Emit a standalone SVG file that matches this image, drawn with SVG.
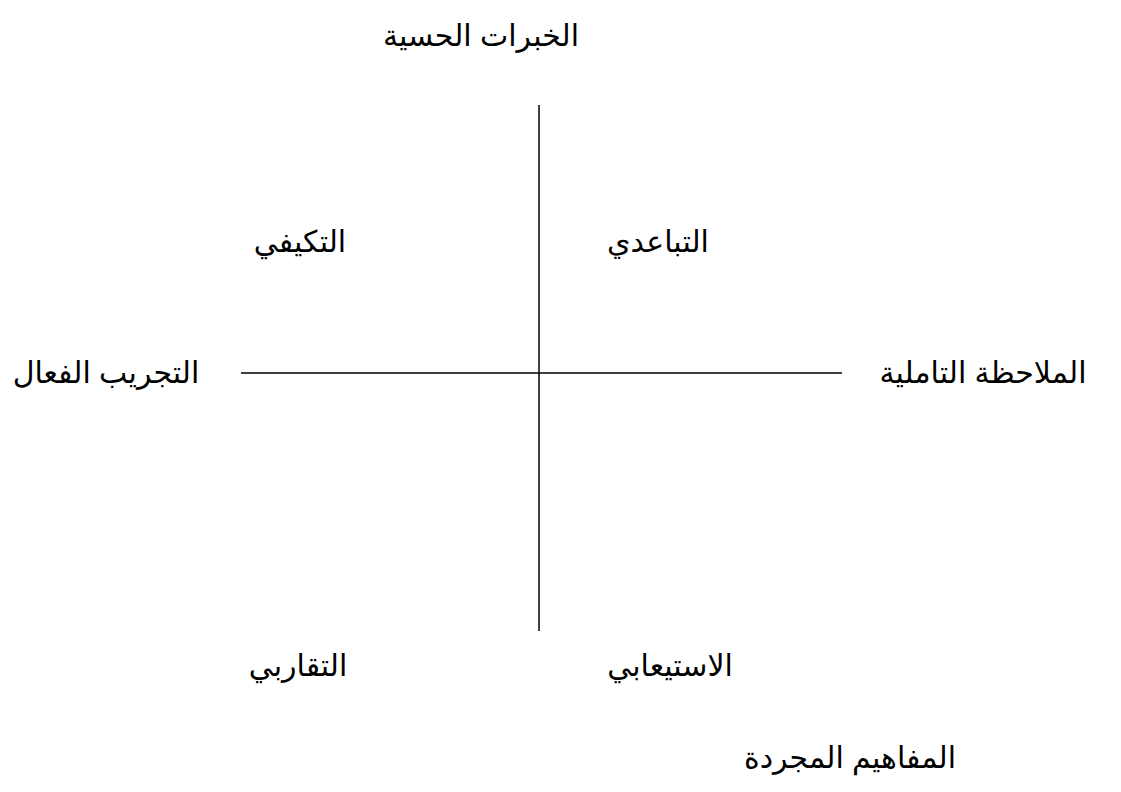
<svg xmlns="http://www.w3.org/2000/svg" width="1121" height="792" viewBox="0 0 1121 792">
<style>
text{font-family:"Liberation Sans","DejaVu Sans",sans-serif;font-size:30px;fill:#000;text-anchor:middle;direction:rtl}
line{stroke:#000;stroke-width:1.5}
</style>
<rect width="1121" height="792" fill="#fff"/>
<g id="connectors">
<line x1="539" y1="105" x2="539" y2="631"/>
<line x1="241" y1="373" x2="842" y2="373"/>
</g>
<g id="top"><text x="481" y="46">الخبرات الحسية</text></g>
<g id="left"><text x="106" y="383">التجريب الفعال</text></g>
<g id="right"><text x="983" y="383">الملاحظة التاملية</text></g>
<g id="q1"><text x="300" y="252">التكيفي</text></g>
<g id="q2"><text x="658" y="252">التباعدي</text></g>
<g id="q3"><text x="298" y="676">التقاربي</text></g>
<g id="q4"><text x="670" y="676">الاستيعابي</text></g>
<g id="bottom"><text x="850" y="768">المفاهيم المجردة</text></g>
</svg>
